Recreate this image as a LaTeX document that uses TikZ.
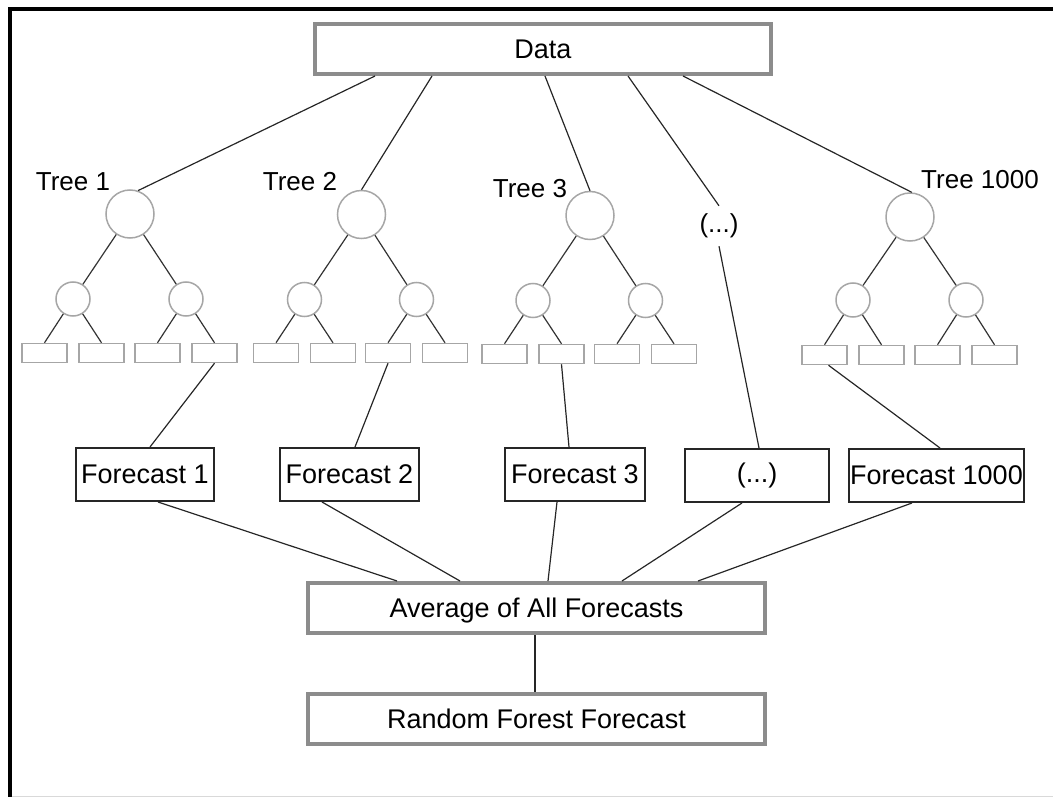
\documentclass[tikz,border=0pt]{standalone}
\usepackage{fontspec}
\setmainfont{Liberation Sans}
\begin{document}
\begin{tikzpicture}[x=1pt,y=-1pt,
  every node/.style={inner sep=0pt},
  bigbox/.style={draw=black!45,line width=4pt,fill=white,minimum width=457pt,minimum height=50pt,font=\fontsize{27}{31}\selectfont},
  fcbox/.style={draw=black!85,line width=2pt,fill=white,minimum height=53pt,font=\fontsize{27}{31}\selectfont},
  root/.style={circle,draw=black!35,line width=1.5pt,minimum size=48pt},
  child/.style={circle,draw=black!35,line width=1.5pt,minimum size=34pt},
  leaf/.style={rectangle,draw=black!35,line width=1.5pt,minimum width=45pt,minimum height=19pt},
  treeedge/.style={draw=black!80,line width=1.2pt},
  link/.style={draw=black!85,line width=1.2pt},
  treelabel/.style={font=\fontsize{26}{30}\selectfont}
]
\useasboundingbox (0,0) rectangle (1053,797);

% outer frame
\draw[line width=4pt] (9.5,797) -- (9.5,9.5) -- (1053,9.5);
\draw[black!15,line width=1pt] (11.5,796) -- (1053,796);

% one decision tree: root, two inner nodes, four leaves
\newcommand\rftree[7]{%
  \node[root]  (#1r)  at (#2,#3) {};
  \node[child] (#1a)  at (#4,#6) {};
  \node[child] (#1b)  at (#5,#6) {};
  \node[leaf]  (#1l1) at ({#4-28.5},#7) {};
  \node[leaf]  (#1l2) at ({#4+28.5},#7) {};
  \node[leaf]  (#1l3) at ({#5-28.5},#7) {};
  \node[leaf]  (#1l4) at ({#5+28.5},#7) {};
  \draw[treeedge] (#1r) -- (#1a);
  \draw[treeedge] (#1r) -- (#1b);
  \draw[treeedge] (#1a) -- (#1l1.north);
  \draw[treeedge] (#1a) -- (#1l2.north);
  \draw[treeedge] (#1b) -- (#1l3.north);
  \draw[treeedge] (#1b) -- (#1l4.north);
}

\rftree{ta}{130}{214}{73}{186}{299}{353}
\rftree{tb}{361.5}{214.5}{304.5}{416.5}{299.5}{353}
\rftree{tc}{590}{215.5}{533}{645.5}{300.5}{354}
\rftree{td}{910}{217}{853}{966}{300}{355}

% tree captions
\node[treelabel] (la) at (73,182)  {Tree 1};
\node[treelabel] (lb) at (300,182) {Tree 2};
\node[treelabel] (lc) at (530,189) {Tree 3};
\node[treelabel,minimum height=40pt] (dots) at (719,226) {(...)};
\node[treelabel] (ld) at (980,180) {Tree 1000};

% main boxes
\node[bigbox,minimum width=456pt] (data) at (543,49) {Data};
\node[bigbox,text depth=0pt] (avg) at (536.5,608) {Average of All Forecasts};
\node[bigbox] (rf) at (536.5,719) {Random Forest Forecast};

% per-tree forecasts
\node[fcbox,minimum width=138pt] (fa) at (145,474.5)   {Forecast 1};
\node[fcbox,minimum width=139pt] (fb) at (349.5,474.5) {Forecast 2};
\node[fcbox,minimum width=140pt] (fc) at (575,474.5)   {Forecast 3};
\node[fcbox,minimum width=144pt] (fd) at (757,475.5)   {(...)};
\node[fcbox,minimum width=175pt] (fe) at (936.5,475.5) {Forecast 1000};

% data to trees
\draw[link] (data.south -| 375,0) -- (tar.71);
\draw[link] (data.south -| 432,0) -- (tbr.90);
\draw[link] (data.south -| 545,0) -- (tcr.90);
\draw[link] (data.south -| 628,0) -- (dots.north);
\draw[link] (data.south -| 683,0) -- (tdr.86);

% leaves to forecasts
\draw[link] (tal4.south) -- (fa.north -| 150,0);
\draw[link] (tbl3.south) -- (fb.north -| 355,0);
\draw[link] (tcl2.south) -- (fc.north -| 569,0);
\draw[link] (dots.south) -- (fd.north -| 759,0);
\draw[link] ([xshift=4pt]tdl1.south) -- (fe.north -| 940,0);

% forecasts to average
\draw[link] (fa.south -| 158,0) -- (avg.north -| 397,0);
\draw[link] (fb.south -| 322,0) -- (avg.north -| 460,0);
\draw[link] (fc.south -| 557,0) -- (avg.north -| 548,0);
\draw[link] (fd.south -| 742,0) -- (avg.north -| 622,0);
\draw[link] (fe.south -| 912,0) -- (avg.north -| 698,0);

% average to final forecast
\draw[link] (avg.south -| 535,0) -- (rf.north -| 535,0);
\end{tikzpicture}
\end{document}
